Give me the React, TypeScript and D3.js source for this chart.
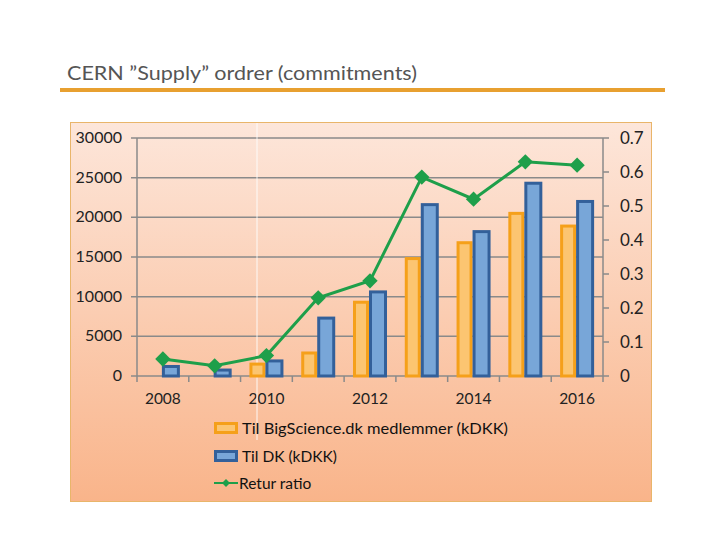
import * as d3 from 'd3'
import React from "react";

const years = ['2008', '2009', '2010', '2011', '2012', '2013', '2014', '2015', '2016'];
const tilBigScience = [0, 0, 1500, 2900, 9300, 14800, 16800, 20500, 18900];
const tilDK = [1200, 750, 1900, 7300, 10600, 21600, 18200, 24300, 22000];
const returRatio = [0.05, 0.03, 0.06, 0.23, 0.28, 0.585, 0.52, 0.63, 0.62];
const leftTicks = [0, 5000, 10000, 15000, 20000, 25000, 30000];
const rightTicks = [0, 0.1, 0.2, 0.3, 0.4, 0.5, 0.6, 0.7];
const xLabels = ['2008', '2010', '2012', '2014', '2016'];

const font = "Lato, 'Open Sans', sans-serif";

const App: React.FC = () => {
    const width = 720;
    const height = 540;
    const plot = { left: 137, right: 603, top: 138, bottom: 376 };

    const x = d3.scaleBand<string>().domain(years).range([plot.left, plot.right]);
    const yL = d3.scaleLinear().domain([0, 30000]).range([plot.bottom, plot.top]);
    const yR = d3.scaleLinear().domain([0, 0.7]).range([plot.bottom, plot.top]);
    const barW = 16;

    const line = d3.line<number>()
        .x((_, i) => x(years[i])! + x.bandwidth() / 2)
        .y(d => yR(d));

    const diamond = d3.symbol().type(d3.symbolDiamond2).size(150)();

    return (
        <svg width={width} height={height} style={{ position: 'absolute', left: 0, top: 0 }}>
            <defs>
                <linearGradient id="bg" x1="0" y1="0" x2="0" y2="1">
                    <stop offset="0" stopColor="#fde6da" />
                    <stop offset="1" stopColor="#f9b48a" />
                </linearGradient>
            </defs>
            <rect width={width} height={height} fill="#fff" />
            <text x={67} y={80} fontFamily={font} fontSize={19} fill="#555"
                textLength={350} lengthAdjust="spacingAndGlyphs">CERN ”Supply” ordrer (commitments)</text>
            <rect x={60} y={88} width={605} height={4} fill="#e8a030" />

            <rect x={70.5} y={122.5} width={581} height={379} fill="url(#bg)" stroke="#e9b56a" strokeWidth={1} />

            {leftTicks.map(t => (
                <g key={t}>
                    <line x1={plot.left - 6} x2={plot.right} y1={yL(t)} y2={yL(t)} stroke="#8a8a8a" strokeWidth={1.5} />
                    <text x={122} y={yL(t) + 5} textAnchor="end" fontFamily={font} fontSize={16} fill="#222">{t}</text>
                </g>
            ))}
            {rightTicks.map(t => (
                <g key={t}>
                    <line x1={plot.right} x2={plot.right + 6} y1={yR(t)} y2={yR(t)} stroke="#8a8a8a" strokeWidth={1.5} />
                    <text x={620} y={yR(t) + 6} fontFamily={font} fontSize={17} fill="#222">{t}</text>
                </g>
            ))}
            <line x1={plot.left} x2={plot.left} y1={plot.top} y2={plot.bottom} stroke="#8a8a8a" strokeWidth={1.5} />
            <line x1={plot.right} x2={plot.right} y1={plot.top} y2={plot.bottom} stroke="#8a8a8a" strokeWidth={1.5} />
            {[...years, 'end'].map((y, i) => {
                const xp = plot.left + i * x.bandwidth();
                return <line key={y} x1={xp} x2={xp} y1={plot.bottom} y2={plot.bottom + 6} stroke="#8a8a8a" strokeWidth={1.5} />;
            })}
            {xLabels.map(l => (
                <text key={l} x={x(l)! + x.bandwidth() / 2} y={404} textAnchor="middle" fontFamily={font} fontSize={15.5} fill="#222">{l}</text>
            ))}

            <line x1={257} x2={257} y1={123} y2={440} stroke="#ffffff" strokeWidth={1} opacity={0.9} />

            {years.map((yr, i) => {
                const c = x(yr)! + x.bandwidth() / 2;
                return (
                    <g key={yr}>
                        {tilBigScience[i] > 0 && (
                            <rect x={c - barW + 0.5} y={yL(tilBigScience[i])} width={barW - 3}
                                height={plot.bottom - yL(tilBigScience[i])}
                                fill="#fcc571" stroke="#f5a01a" strokeWidth={3} />
                        )}
                        <rect x={c + 0.5} y={yL(tilDK[i])} width={barW - 1}
                            height={plot.bottom - yL(tilDK[i])}
                            fill="#78a6d8" stroke="#33609a" strokeWidth={3} />
                    </g>
                );
            })}

            <path d={line(returRatio) ?? ''} fill="none" stroke="#1e9f4a" strokeWidth={3} />
            {returRatio.map((r, i) => (
                <path key={i} d={diamond ?? ''} fill="#1e9f4a"
                    transform={`translate(${x(years[i])! + x.bandwidth() / 2},${yR(r)})`} />
            ))}

            <g fontFamily={font} fontSize={15.5} fill="#111">
                <rect x={215.5} y={423.5} width={21} height={9} fill="#fcc571" stroke="#f5a01a" strokeWidth={3} />
                <text x={242} y={434} textLength={266} lengthAdjust="spacingAndGlyphs">Til BigScience.dk medlemmer (kDKK)</text>
                <rect x={215.5} y={451.5} width={21} height={9} fill="#78a6d8" stroke="#33609a" strokeWidth={3} />
                <text x={242} y={462}>Til DK (kDKK)</text>
                <line x1={214} x2={238} y1={483} y2={483} stroke="#1e9f4a" strokeWidth={2} />
                <path d={d3.symbol().type(d3.symbolDiamond2).size(40)() ?? ''} fill="#1e9f4a" transform="translate(226,483)" />
                <text x={239} y={489}>Retur ratio</text>
            </g>
        </svg>
    );
}

export default App;
